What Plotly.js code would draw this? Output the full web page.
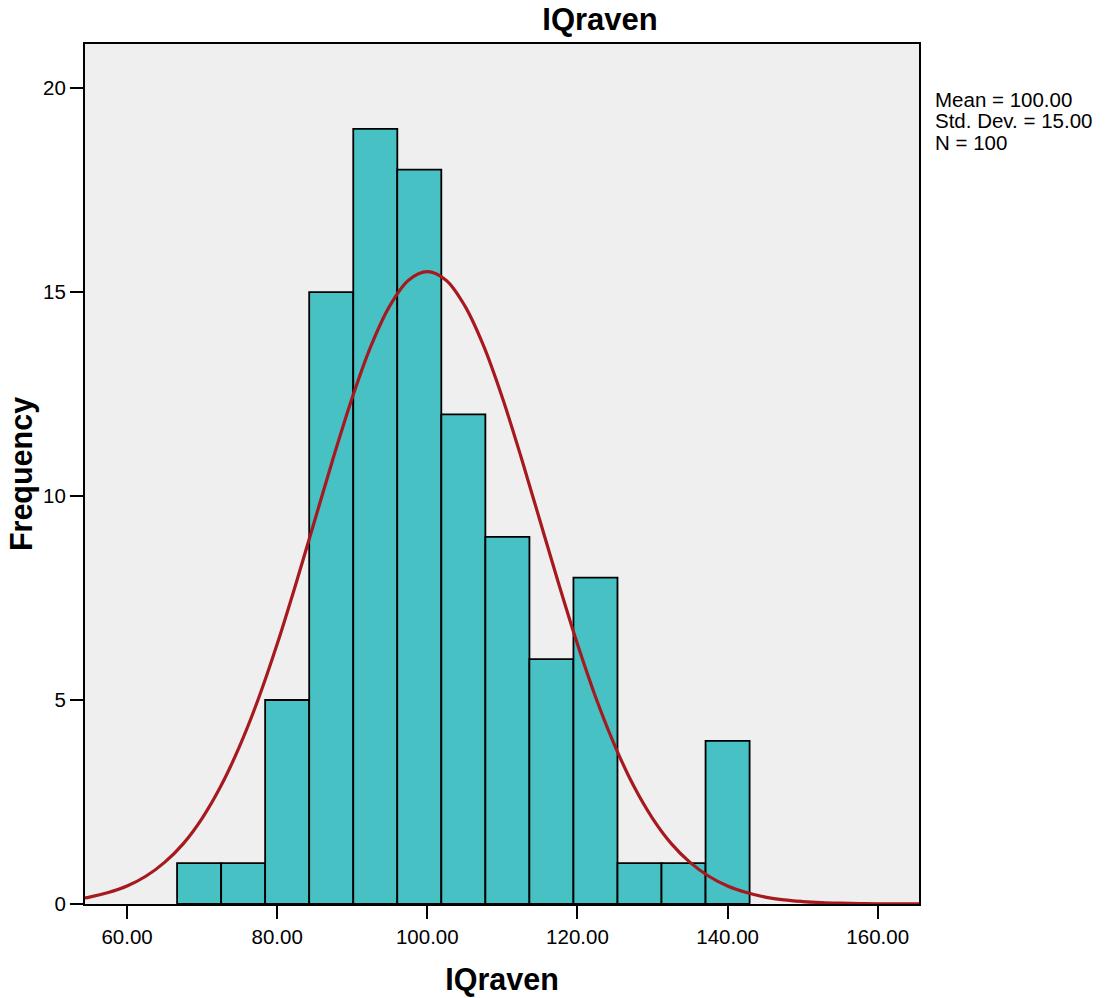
<!DOCTYPE html>
<html>
<head>
<meta charset="utf-8">
<script src="https://cdn.plot.ly/plotly-3.0.1.min.js"></script>
<style>
html,body{margin:0;padding:0;background:#fff;}
#chart{width:1109px;height:998px;}
</style>
</head>
<body>
<div id="chart"></div>
<script>
// Histogram bins (centers) and frequencies
var binCenters = [69.60, 75.47, 81.33, 87.20, 93.07, 98.93, 104.80, 110.67, 116.53, 122.40, 128.27, 134.13, 140.00];
var frequencies = [1, 1, 5, 15, 19, 18, 12, 9, 6, 8, 1, 1, 4];
var binWidth = 5.867;

// Normal curve points
var curveX = [50, 52.5, 55, 57.5, 60, 62.5, 65, 67.5, 70, 72.5, 75, 77.5, 80, 82.5, 85, 87.5, 90, 92.5, 95, 97.5, 100,
              102.5, 105, 107.5, 110, 112.5, 115, 117.5, 120, 122.5, 125, 127.5, 130, 132.5, 135, 137.5, 140, 142.5, 145, 147.5,
              150, 152.5, 155, 157.5, 160, 165, 170];
var curveY = [0.06, 0.10, 0.17, 0.28, 0.44, 0.68, 1.02, 1.48, 2.10, 2.89, 3.87, 5.03, 6.37, 7.85, 9.40, 10.95, 12.41, 13.68, 14.66, 15.29, 15.50,
              15.29, 14.66, 13.68, 12.41, 10.95, 9.40, 7.85, 6.37, 5.03, 3.87, 2.89, 2.10, 1.48, 1.02, 0.68, 0.44, 0.28, 0.17, 0.10,
              0.06, 0.034, 0.019, 0.010, 0.005, 0.001, 0.0002];

var xTickVals = [60, 80, 100, 120, 140, 160];
var xTickText = ["60.00", "80.00", "100.00", "120.00", "140.00", "160.00"];
var yTickVals = [0, 5, 10, 15, 20];
var yTickText = ["0", "5", "10", "15", "20"];

var chartTitle = "IQraven";
var xTitle = "IQraven";
var yTitle = "Frequency";
var statsLines = ["Mean = 100.00", "Std. Dev. = 15.00", "N = 100"];

var FONT = "Liberation Sans, Arial, Helvetica, sans-serif";

var traces = [
  {
    type: "bar",
    x: binCenters,
    y: frequencies,
    width: binCenters.map(function(){ return binWidth; }),
    marker: {color: "#48C1C5", line: {color: "#000000", width: 1.8}},
    hoverinfo: "x+y",
    showlegend: false
  },
  {
    type: "scatter",
    mode: "lines",
    x: curveX,
    y: curveY,
    line: {color: "#A6191E", width: 3.2, shape: "spline", smoothing: 1},
    showlegend: false,
    hoverinfo: "skip"
  }
];

var L = 85, R = 190, T = 44, B = 94, W = 1109, H = 998;
var plotH = H - T - B;
function yPaper(px){ return (H - B - px) / plotH; }

var annotations = statsLines.map(function(txt, i){
  return {
    text: txt, xref: "paper", yref: "paper",
    x: (933 - L) / (W - L - R), y: yPaper(99 + 22 * i),
    xanchor: "left", yanchor: "middle", showarrow: false,
    font: {family: FONT, size: 20.5, color: "#000"}
  };
});

var layout = {
  width: W, height: H,
  margin: {l: L, r: R, t: T, b: B, pad: 0},
  paper_bgcolor: "#ffffff",
  plot_bgcolor: "#EFEFEF",
  bargap: 0,
  title: {
    text: chartTitle,
    x: 600 / W, xref: "container", xanchor: "center",
    y: 1 - 19 / H, yref: "container", yanchor: "middle",
    font: {family: FONT, size: 31, weight: "bold", color: "#000"}
  },
  xaxis: {
    range: [54.4, 165.5],
    tickvals: xTickVals, ticktext: xTickText,
    ticks: "outside", ticklen: 13, tickwidth: 2, tickcolor: "#000",
    showline: true, linecolor: "#000", linewidth: 2, mirror: true,
    showgrid: false, zeroline: false,
    tickfont: {family: FONT, size: 20.5, color: "#000"},
    title: {text: xTitle, standoff: 22, font: {family: FONT, size: 30.5, weight: "bold", color: "#000"}},
    automargin: false
  },
  yaxis: {
    range: [0, 21.08],
    tickvals: yTickVals, ticktext: yTickText,
    ticks: "outside", ticklen: 13, tickwidth: 2, tickcolor: "#000",
    showline: true, linecolor: "#000", linewidth: 2, mirror: true,
    showgrid: false, zeroline: false,
    tickfont: {family: FONT, size: 20.5, color: "#000"},
    title: {text: yTitle, standoff: 1, font: {family: FONT, size: 30.5, weight: "bold", color: "#000"}},
    automargin: false
  },
  annotations: annotations,
  showlegend: false
};

Plotly.newPlot("chart", traces, layout, {displayModeBar: false, staticPlot: true});
</script>
</body>
</html>
